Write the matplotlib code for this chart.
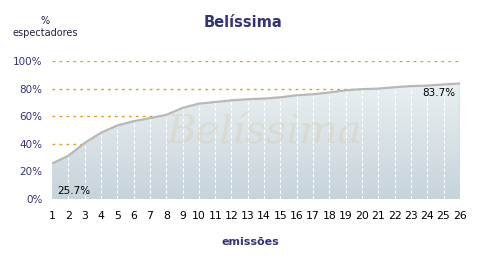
import numpy as np
import matplotlib
matplotlib.use("Agg")
import matplotlib.pyplot as plt
from matplotlib.patches import Polygon

emissoes = list(range(1, 27))
espectadores = [25.7, 31.4, 40.6, 48.0, 53.3, 56.4, 58.6, 61.0, 66.0, 69.1,
                70.3, 71.5, 72.3, 72.8, 73.7, 75.2, 75.9, 77.2, 78.8, 79.6,
                80.0, 81.0, 81.8, 82.2, 83.0, 83.7]
y_ticks = [0, 20, 40, 60, 80, 100]
y_labels = ["0%", "20%", "40%", "60%", "80%", "100%"]

navy = "#333377"

fig = plt.figure(figsize=(4.82, 2.70), dpi=100)
ax = fig.add_axes([0.108, 0.263, 0.846, 0.511])
ax.set_xlim(1, 26)
ax.set_ylim(0, 100)

# dotted orange gridlines
for t in y_ticks[1:]:
    ax.axhline(t, color="#e0a020", lw=1.0, ls=(0, (2, 3)), zorder=1)

# gradient fill clipped to the area under the curve
verts = [(emissoes[0], 0)] + list(zip(emissoes, espectadores)) + [(emissoes[-1], 0)]
poly = Polygon(verts, closed=True, facecolor="none", edgecolor="none")
ax.add_patch(poly)
grad = np.linspace(0, 1, 256).reshape(-1, 1)
top = np.array([0.94, 0.96, 0.96])
bot = np.array([0.78, 0.83, 0.86])
img = bot + (top - bot) * grad[:, :, None] * np.ones((1, 2, 1))
im = ax.imshow(img, extent=[1, 26, 0, 100], origin="lower", aspect="auto", zorder=2)
im.set_clip_path(poly)

# white dashed verticals inside the area
for x, v in zip(emissoes[1:-1], espectadores[1:-1]):
    ax.plot([x, x], [0, v], color="white", lw=0.8, ls=(0, (3, 2)), zorder=3)

ax.plot(emissoes, espectadores, color="#b8b8b8", lw=1.6, zorder=4)
ax.plot([26, 26], [0, espectadores[-1]], color="#b8b8b8", lw=1, zorder=4)

# watermark
ax.text(14, 48, "Belíssima", fontsize=29, family="DejaVu Serif", style="italic",
        color="#d8c6a0", alpha=0.3, ha="center", va="center", zorder=3)

ax.text(1.3, 2, "%.1f%%" % espectadores[0], fontsize=7.5, ha="left", va="bottom", zorder=5)
ax.text(25.7, espectadores[-1] - 3, "%.1f%%" % espectadores[-1], fontsize=7.5,
        ha="right", va="top", zorder=5)

ax.set_xticks(emissoes)
ax.set_xticklabels([str(e) for e in emissoes], fontsize=7.8, color="black")
ax.set_yticks(y_ticks)
ax.set_yticklabels(y_labels, fontsize=7.5, color=navy)
ax.tick_params(length=0, pad=9)
ax.tick_params(axis="y", pad=7)
for s in ax.spines.values():
    s.set_visible(False)

fig.text(0.505, 0.915, "Belíssima", fontsize=10.5, fontweight="bold", color=navy,
         ha="center", va="center")
fig.text(0.093, 0.90, "%\nespectadores", fontsize=7, ha="center", va="center",
         linespacing=1.3, color="#222244")
fig.text(0.52, 0.105, "emissões", fontsize=8, fontweight="bold", color=navy,
         ha="center", va="center")

fig.savefig("out.png", dpi=100)
